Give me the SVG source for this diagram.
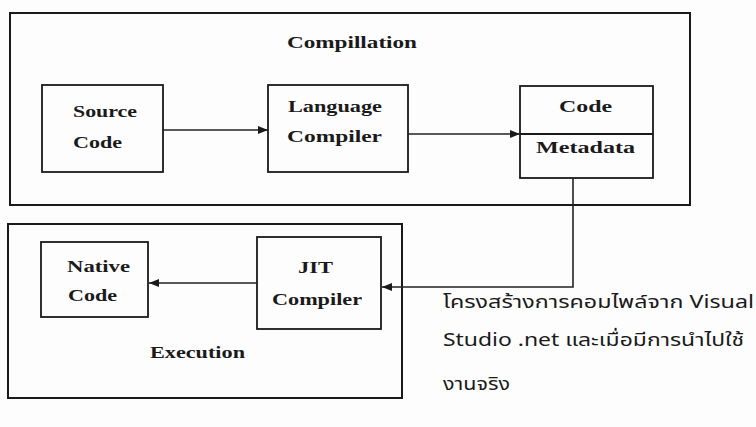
<svg xmlns="http://www.w3.org/2000/svg" width="756" height="427" viewBox="0 0 756 427">
  <style>
    .frame { fill: none; stroke: #1a1a1a; stroke-width: 2; }
    .box { fill: none; stroke: #1a1a1a; stroke-width: 1.8; }
    .link { fill: none; stroke: #222; stroke-width: 1.6; }
    .lbl { font-family: "Liberation Serif", "Times New Roman", serif; font-size: 16px; font-weight: bold; fill: #1a1a1a; }
    .note { font-family: "Noto Sans Thai", "Noto Sans", "DejaVu Sans", sans-serif; font-size: 18px; fill: #1a1a1a; }
  </style>
  <defs>
    <marker id="arrow" viewBox="0 0 10 8" refX="10" refY="4" markerWidth="10" markerHeight="8" markerUnits="userSpaceOnUse" orient="auto">
      <path d="M0,0 L10,4 L0,8 Z" fill="#1a1a1a"/>
    </marker>
  </defs>
  <rect width="756" height="427" fill="#fdfdfd"/>

  <!-- compilation stage -->
  <g id="compilation">
    <rect class="frame" x="10" y="13" width="680" height="192"/>
    <text class="lbl" x="287" y="48" textLength="130" lengthAdjust="spacingAndGlyphs">Compillation</text>
  </g>
  <g id="source-code">
    <rect class="box" x="42" y="85" width="121" height="87"/>
    <text class="lbl" x="73" y="117" textLength="64" lengthAdjust="spacingAndGlyphs">Source</text>
    <text class="lbl" x="73" y="148" textLength="49" lengthAdjust="spacingAndGlyphs">Code</text>
  </g>
  <g id="language-compiler">
    <rect class="box" x="268" y="85" width="140" height="87"/>
    <text class="lbl" x="288" y="112" textLength="94" lengthAdjust="spacingAndGlyphs">Language</text>
    <text class="lbl" x="287" y="142" textLength="95" lengthAdjust="spacingAndGlyphs">Compiler</text>
  </g>
  <g id="code-metadata">
    <rect class="box" x="520" y="86" width="133" height="92"/>
    <line class="box" x1="520" y1="134" x2="653" y2="134"/>
    <text class="lbl" x="559" y="112" textLength="53" lengthAdjust="spacingAndGlyphs">Code</text>
    <text class="lbl" x="536" y="153" textLength="99" lengthAdjust="spacingAndGlyphs">Metadata</text>
  </g>

  <!-- execution stage -->
  <g id="execution">
    <rect class="frame" x="8" y="224" width="394" height="174"/>
    <text class="lbl" x="150" y="358" textLength="95" lengthAdjust="spacingAndGlyphs">Execution</text>
  </g>
  <g id="native-code">
    <rect class="box" x="41" y="242" width="107" height="75"/>
    <text class="lbl" x="67" y="272" textLength="63" lengthAdjust="spacingAndGlyphs">Native</text>
    <text class="lbl" x="68" y="301" textLength="49" lengthAdjust="spacingAndGlyphs">Code</text>
  </g>
  <g id="jit-compiler">
    <rect class="box" x="257" y="237" width="124" height="92"/>
    <text class="lbl" x="298" y="273" textLength="35" lengthAdjust="spacingAndGlyphs">JIT</text>
    <text class="lbl" x="272" y="305" textLength="90" lengthAdjust="spacingAndGlyphs">Compiler</text>
  </g>

  <!-- connectors -->
  <g id="connectors">
    <line class="link" x1="163" y1="130" x2="268" y2="130" marker-end="url(#arrow)"/>
    <line class="link" x1="408" y1="134" x2="520" y2="134" marker-end="url(#arrow)"/>
    <polyline class="link" points="573,178 573,287 382,287" marker-end="url(#arrow)"/>
    <line class="link" x1="257" y1="283" x2="149" y2="283" marker-end="url(#arrow)"/>
  </g>

  <!-- caption -->
  <g id="caption">
    <text class="note" x="443" y="308" textLength="311" lengthAdjust="spacingAndGlyphs">โครงสร้างการคอมไพล์จาก Visual</text>
    <text class="note" x="443" y="346" textLength="301" lengthAdjust="spacingAndGlyphs">Studio .net และเมื่อมีการนำไปใช้</text>
    <text class="note" x="443" y="390" textLength="67" lengthAdjust="spacingAndGlyphs">งานจริง</text>
  </g>
</svg>
